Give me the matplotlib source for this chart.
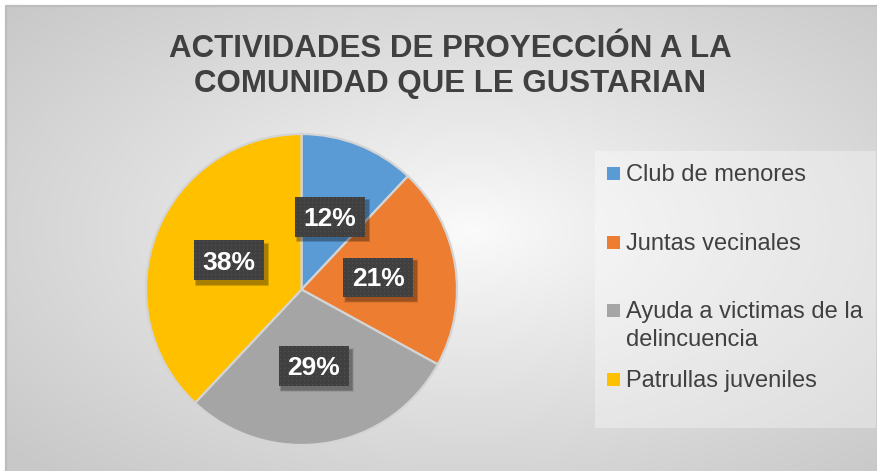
import numpy as np
import matplotlib
matplotlib.use('Agg')
import matplotlib.pyplot as plt
from matplotlib.patches import Rectangle
from matplotlib.lines import Line2D

# ---------------- data ----------------
categories = ['Club de menores', 'Juntas vecinales',
              'Ayuda a victimas de la\ndelincuencia', 'Patrullas juveniles']
values = [12, 21, 29, 38]
colors = ['#5B9BD5', '#ED7D31', '#A5A5A5', '#FFC000']
title_lines = ['ACTIVIDADES DE PROYECCIÓN A LA', 'COMUNIDAD QUE LE GUSTARIAN']

FONT = ['Liberation Sans', 'DejaVu Sans']
plt.rcParams['font.family'] = FONT

W, H = 878, 471
fig = plt.figure(figsize=(W / 100, H / 100), dpi=100)
fig.patch.set_facecolor('white')

# ---------------- background (radial gradient chart area) ----------------
x0, y0 = 6, 6  # top-left corner of chart area in pixels
bg = fig.add_axes([x0 / W, 0, (W - x0) / W, (H - y0) / H])
bg.set_axis_off()
nx, ny = W - x0, H - y0
px = np.arange(nx)[None, :] + x0
py = np.arange(ny)[:, None] + y0
gcx, gcy = 470.0, 230.0
dist = np.sqrt(((px - gcx) / 440.0) ** 2 + ((py - gcy) / 235.0) ** 2) / np.sqrt(2)
dist = np.clip(dist, 0, 1)
g = 0.985 - (0.985 - 0.785) * dist ** 0.9
img = np.dstack([g, g, g])
bg.imshow(img, extent=[0, 1, 0, 1], aspect='auto', origin='upper',
          interpolation='bilinear', zorder=0)
bg.set_xlim(0, 1)
bg.set_ylim(0, 1)
bg.add_line(Line2D([0, 0, 1, 1], [0, 1, 1, 0], color='#bdbdbd', lw=1.6,
                   transform=bg.transAxes, clip_on=False))

# ---------------- title ----------------
title_x = 450
title_baselines = [57, 92]
for line, yb in zip(title_lines, title_baselines):
    fig.text(title_x / W, (H - yb) / H, line, ha='center', va='baseline',
             fontsize=22.5, fontweight='bold', color='#404040', family=FONT)

# ---------------- pie ----------------
pcx, pcy, R = 301.5, 289.5, 155.5
ax = fig.add_axes([(pcx - R) / W, (H - pcy - R) / H, 2 * R / W, 2 * R / H])
wedges, _ = ax.pie(values, colors=colors, startangle=90, counterclock=False,
                   wedgeprops=dict(edgecolor='#d4d4d4', linewidth=1.6))
ax.set_xlim(-1, 1)
ax.set_ylim(-1, 1)
ax.set_aspect('equal')
ax.set_axis_off()

total = float(sum(values))
texts = []
for w, v in zip(wedges, values):
    th = np.deg2rad((w.theta1 + w.theta2) / 2.0)
    lx, ly = 0.5 * np.cos(th), 0.5 * np.sin(th)
    t = ax.text(lx, ly - 2.0 / R, f'{v / total * 100:.0f}%', ha='center',
                va='center', fontsize=19, fontweight='bold', color='white',
                zorder=10, family=FONT)
    texts.append((t, lx, ly))

fig.canvas.draw()
renderer = fig.canvas.get_renderer()
# dotted texture
tex_h, tex_w = 39, 80
tex = np.ones((tex_h, tex_w, 3)) * (0x40 / 255.0)
tex[1::4, 1::4] = 0x52 / 255.0
for t, lx, ly in texts:
    bb = t.get_window_extent(renderer)
    bw = (bb.width + 17) / R
    bh = 39.0 / R
    # soft shadow
    for k, a in zip(range(4), [0.10, 0.10, 0.10, 0.08]):
        s = (1.5 + k) / R
        ax.add_patch(Rectangle((lx - bw / 2 + 3.0 / R - s / 2, ly - bh / 2 - 3.5 / R - s / 2),
                               bw + s, bh + s, fc='black', ec='none', alpha=a,
                               zorder=7, clip_on=False))
    wpx = int(round(bb.width + 17))
    ax.imshow(tex[:, :wpx], extent=[lx - bw / 2, lx + bw / 2, ly - bh / 2, ly + bh / 2],
              zorder=8, interpolation='nearest', aspect='auto', clip_on=False)
ax.set_xlim(-1, 1)
ax.set_ylim(-1, 1)

# ---------------- legend ----------------
lg_l, lg_t, lg_r, lg_b = 595, 151, 876, 428
fig.patches.append(Rectangle((lg_l / W, (H - lg_b) / H), (lg_r - lg_l) / W,
                             (lg_b - lg_t) / H, transform=fig.transFigure,
                             fc='white', ec='none', alpha=0.33, zorder=1))
leg_baselines = [181, 250, 318, 387]
line_gap = 28
msize = 12.7
for cat, col, yb in zip(categories, colors, leg_baselines):
    fig.patches.append(Rectangle((607.3 / W, (H - yb + 1) / H), msize / W, msize / H,
                                 transform=fig.transFigure, fc=col, ec='none',
                                 zorder=3))
    for i, ln in enumerate(cat.split('\n')):
        fig.text(626 / W, (H - yb - i * line_gap) / H, ln, ha='left',
                 va='baseline', fontsize=17, color='#404040', family=FONT,
                 zorder=4)

fig.savefig('out.png', dpi=100, facecolor=fig.get_facecolor())
